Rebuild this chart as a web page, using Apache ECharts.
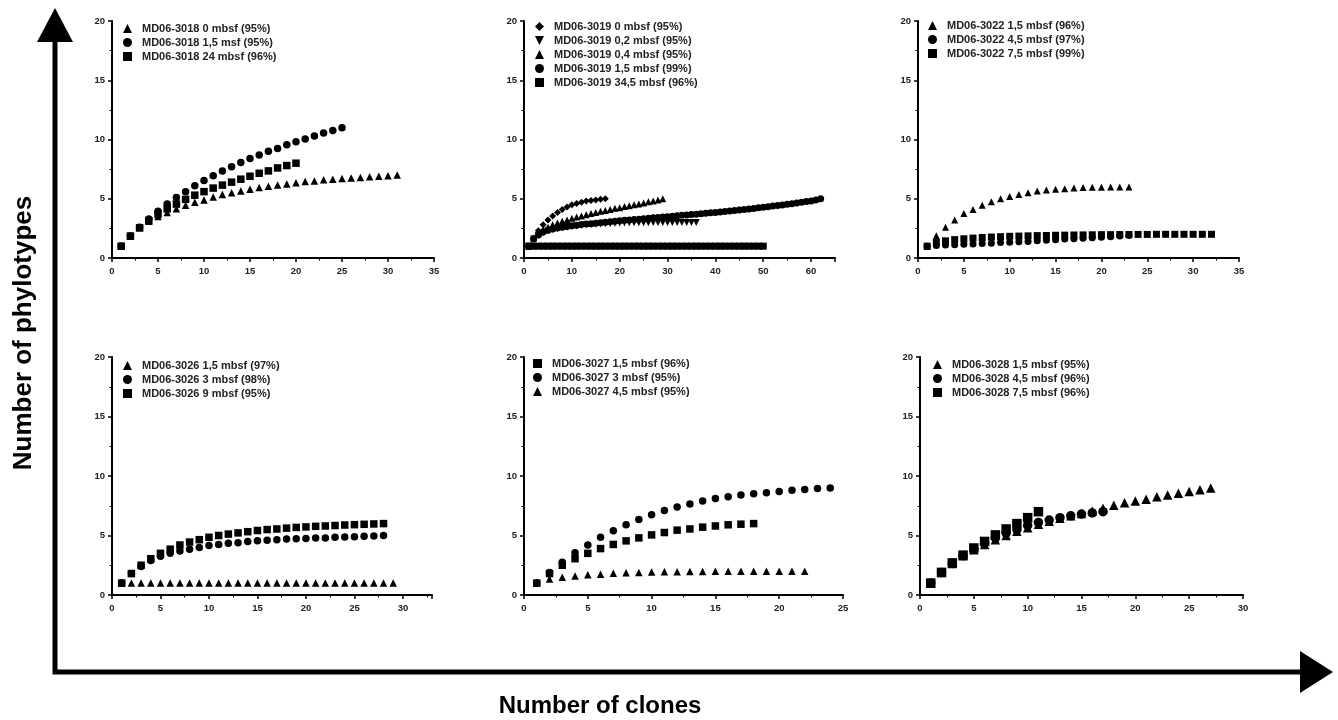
<!DOCTYPE html>
<html><head><meta charset="utf-8">
<script src="https://cdn.jsdelivr.net/npm/echarts@6/dist/echarts.min.js"></script>
<style>html,body{margin:0;padding:0;background:#fff}#c{width:1338px;height:720px}</style>
</head><body><div id="c"></div><script>
// ---- DATA (y values; x = number of clones 1..n) ----
const names3018 = ['MD06-3018 0 mbsf (95%)', 'MD06-3018 1,5 msf (95%)', 'MD06-3018 24 mbsf (96%)'];
const y3018_0 = [1,1.85,2.55,3.1,3.5,3.85,4.15,4.45,4.7,4.9,5.15,5.35,5.5,5.65,5.8,5.95,6.05,6.15,6.25,6.35,6.45,6.5,6.6,6.65,6.7,6.75,6.8,6.85,6.9,6.95,7.0];
const y3018_15 = [1,1.85,2.6,3.3,3.95,4.55,5.1,5.6,6.1,6.55,6.95,7.35,7.7,8.05,8.4,8.7,9.0,9.25,9.55,9.8,10.05,10.3,10.55,10.75,11.0];
const y3018_24 = [1,1.85,2.55,3.15,3.7,4.15,4.55,4.95,5.3,5.6,5.9,6.15,6.4,6.65,6.9,7.15,7.35,7.6,7.8,8.0];

const names3019 = ['MD06-3019 0 mbsf (95%)', 'MD06-3019 0,2 mbsf (95%)', 'MD06-3019 0,4 mbsf (95%)', 'MD06-3019 1,5 mbsf (99%)', 'MD06-3019 34,5 mbsf (96%)'];
const y3019_0 = [1,1.6,2.3,2.8,3.2,3.55,3.85,4.1,4.3,4.5,4.6,4.7,4.8,4.85,4.9,4.95,5.0];
const y3019_02 = [1,1.6,1.9,2.1,2.3,2.4,2.5,2.55,2.6,2.65,2.7,2.75,2.8,2.82,2.85,2.87,2.9,2.92,2.93,2.95,2.96,2.97,2.97,2.98,2.98,2.98,2.99,2.99,2.99,3,3,3,3,3,3,3];
const y3019_04 = [1,1.7,2.1,2.4,2.6,2.8,2.95,3.1,3.2,3.35,3.45,3.55,3.65,3.75,3.85,3.95,4.0,4.1,4.2,4.25,4.35,4.4,4.5,4.55,4.65,4.75,4.8,4.9,5.0];
const y3019_15 = [1.0,1.6,1.95,2.2,2.35,2.45,2.53,2.6,2.66,2.72,2.77,2.82,2.86,2.9,2.94,2.98,3.02,3.06,3.1,3.14,3.18,3.21,3.25,3.28,3.32,3.35,3.39,3.42,3.46,3.49,3.53,3.56,3.6,3.63,3.67,3.7,3.74,3.77,3.81,3.85,3.89,3.93,3.97,4.01,4.05,4.1,4.14,4.18,4.23,4.28,4.33,4.38,4.43,4.48,4.53,4.58,4.64,4.7,4.76,4.82,4.9,5.0];
const y3019_345 = [1,1,1,1,1,1,1,1,1,1,1,1,1,1,1,1,1,1,1,1,1,1,1,1,1,1,1,1,1,1,1,1,1,1,1,1,1,1,1,1,1,1,1,1,1,1,1,1,1,1];

const names3022 = ['MD06-3022 1,5 mbsf (96%)', 'MD06-3022 4,5 mbsf (97%)', 'MD06-3022 7,5 mbsf (99%)'];
const y3022_15 = [1,1.87,2.6,3.2,3.75,4.1,4.45,4.75,5.0,5.2,5.35,5.5,5.65,5.73,5.8,5.85,5.9,5.95,5.97,5.98,6,6,6];
const y3022_45 = [1,1.05,1.1,1.12,1.15,1.18,1.22,1.25,1.3,1.33,1.37,1.4,1.45,1.5,1.55,1.6,1.63,1.67,1.7,1.75,1.8,1.85,1.9];
const y3022_75 = [1,1.3,1.45,1.55,1.62,1.68,1.73,1.77,1.8,1.83,1.85,1.87,1.89,1.9,1.92,1.93,1.94,1.95,1.96,1.97,1.97,1.98,1.98,1.99,1.99,2,2,2,2,2,2,2];

const names3026 = ['MD06-3026 1,5 mbsf (97%)', 'MD06-3026 3 mbsf (98%)', 'MD06-3026 9 mbsf (95%)'];
const y3026_15 = [1,1,1,1,1,1,1,1,1,1,1,1,1,1,1,1,1,1,1,1,1,1,1,1,1,1,1,1,1];
const y3026_3 = [1,1.8,2.4,2.9,3.25,3.5,3.7,3.85,4.0,4.15,4.25,4.35,4.4,4.5,4.55,4.6,4.65,4.7,4.72,4.75,4.78,4.8,4.85,4.87,4.9,4.93,4.96,5.0];
const y3026_9 = [1,1.8,2.5,3.05,3.5,3.85,4.2,4.45,4.65,4.85,5.0,5.12,5.22,5.32,5.42,5.5,5.55,5.62,5.68,5.72,5.77,5.8,5.84,5.88,5.91,5.94,5.97,6.0];

const names3027 = ['MD06-3027 1,5 mbsf (96%)', 'MD06-3027 3 mbsf (95%)', 'MD06-3027 4,5 mbsf (95%)'];
const y3027_15 = [1,1.8,2.5,3.05,3.5,3.9,4.25,4.55,4.8,5.05,5.25,5.45,5.55,5.7,5.8,5.9,5.95,6.0];
const y3027_3 = [1,1.9,2.75,3.55,4.2,4.85,5.4,5.9,6.35,6.75,7.1,7.4,7.65,7.9,8.1,8.25,8.4,8.5,8.6,8.7,8.8,8.87,8.95,9.0];
const y3027_45 = [1,1.35,1.5,1.6,1.7,1.75,1.82,1.87,1.9,1.93,1.95,1.96,1.97,1.98,1.99,2,2,2,2,2,2,2];

const names3028 = ['MD06-3028 1,5 mbsf (95%)', 'MD06-3028 4,5 mbsf (96%)', 'MD06-3028 7,5 mbsf (96%)'];
const y3028_15 = [1,1.9,2.65,3.3,3.8,4.25,4.65,5.0,5.35,5.65,5.95,6.2,6.45,6.65,6.85,7.05,7.3,7.55,7.75,7.9,8.05,8.25,8.4,8.55,8.7,8.85,9.0];
const y3028_45 = [1,1.9,2.65,3.3,3.85,4.35,4.8,5.2,5.5,5.85,6.1,6.3,6.5,6.65,6.8,6.9,7.0];
const y3028_75 = [1,1.9,2.7,3.35,3.95,4.5,5.05,5.55,6.0,6.5,7.0];

const yTicks = [0, 5, 10, 15, 20];
const axisTitleX = 'Number of clones';
const axisTitleY = 'Number of phylotypes';

// ---- LAYOUT / STYLE ----
const TRI = 'triangle', CIR = 'circle', SQ = 'rect', DIA = 'diamond', INV = 'path://M0,0 L10,0 L5,10 Z';
const FONT = 'Liberation Sans, Arial, sans-serif';
const INK = '#000';

const panels = [
  {grid:{left:112, top:21, width:322, height:237}, xmax:35, xint:5, leg:{left:123, top:23}, size:7.5,
   series:[[names3018[0], TRI, y3018_0], [names3018[1], CIR, y3018_15], [names3018[2], SQ, y3018_24]]},
  {grid:{left:524, top:21, width:311, height:237}, xmax:65, xint:10, leg:{left:535, top:21}, size:7,
   series:[[names3019[0], DIA, y3019_0], [names3019[1], INV, y3019_02], [names3019[2], TRI, y3019_04], [names3019[3], CIR, y3019_15], [names3019[4], SQ, y3019_345]]},
  {grid:{left:918, top:21, width:321, height:237}, xmax:35, xint:5, leg:{left:928, top:20}, size:7,
   series:[[names3022[0], TRI, y3022_15], [names3022[1], CIR, y3022_45], [names3022[2], SQ, y3022_75]]},
  {grid:{left:112, top:357, width:320, height:238}, xmax:33, xint:5, leg:{left:123, top:360}, size:7.5,
   series:[[names3026[0], TRI, y3026_15], [names3026[1], CIR, y3026_3], [names3026[2], SQ, y3026_9]]},
  {grid:{left:524, top:357, width:319, height:238}, xmax:25, xint:5, leg:{left:533, top:358}, size:7.5,
   series:[[names3027[0], SQ, y3027_15], [names3027[1], CIR, y3027_3], [names3027[2], TRI, y3027_45]]},
  {grid:{left:920, top:357, width:323, height:238}, xmax:30, xint:5, leg:{left:933, top:359}, size:9.5,
   series:[[names3028[0], TRI, y3028_15], [names3028[1], CIR, y3028_45], [names3028[2], SQ, y3028_75]]}
];

const grid = [], xAxis = [], yAxis = [], series = [], legend = [];
const axisCommon = {
  axisLine:{show:true, onZero:false, lineStyle:{color:INK, width:2}},
  axisTick:{show:true, inside:false, length:4, lineStyle:{color:INK, width:1.5}},
  minorTick:{show:true, splitNumber:2, length:2.5, lineStyle:{color:INK, width:1}},
  splitLine:{show:false}
};
panels.forEach((p, i) => {
  grid.push(Object.assign({containLabel:false}, p.grid));
  xAxis.push(Object.assign({}, axisCommon, {
    type:'value', gridIndex:i, min:0, max:p.xmax, interval:p.xint,
    axisLabel:{fontFamily:FONT, fontSize:9.5, fontWeight:'bold', color:'#222', margin:8,
      formatter: v => (Math.abs(v % p.xint) < 1e-9 ? String(v) : '')}
  }));
  yAxis.push(Object.assign({}, axisCommon, {
    type:'value', gridIndex:i, min:yTicks[0], max:yTicks[yTicks.length-1], interval:5,
    axisLabel:{fontFamily:FONT, fontSize:9.5, fontWeight:'bold', color:'#222', margin:7}
  }));
  legend.push({
    orient:'vertical', left:p.leg.left, top:p.leg.top, itemWidth:9, itemHeight:9, itemGap:3,
    padding:0,
    data:p.series.map(s => s[0]),
    itemStyle:{opacity:1},
    textStyle:{fontFamily:FONT, fontSize:11, fontWeight:'bold', color:'#222', lineHeight:9, padding:[0,0,0,5]}
  });
  p.series.forEach(s => {
    series.push({
      type:'scatter', name:s[0], xAxisIndex:i, yAxisIndex:i, symbol:s[1], symbolSize:p.size,
      itemStyle:{color:INK, opacity:1}, silent:true, animation:false,
      data:s[2].map((y, k) => [k + 1, y])
    });
  });
});

const chart = echarts.init(document.getElementById('c'), null, {renderer:'canvas'});
chart.setOption({
  backgroundColor:'#fff', animation:false,
  grid, xAxis, yAxis, series, legend,
  graphic:[
    {type:'polyline', shape:{points:[[55,40],[55,672],[1302,672]]}, style:{stroke:'#000', lineWidth:5, fill:null}},
    {type:'polygon', shape:{points:[[37,42],[73,42],[55,8]]}, style:{fill:'#000'}},
    {type:'polygon', shape:{points:[[1300,651],[1300,693],[1333,672]]}, style:{fill:'#000'}},
    {type:'text', x:600, y:706, style:{text:axisTitleX, fontFamily:FONT, fontSize:24, fontWeight:'bold', fill:'#000', align:'center', verticalAlign:'middle'}},
    {type:'text', x:24, y:333, rotation:Math.PI/2, style:{text:axisTitleY, fontFamily:FONT, fontSize:26, fontWeight:'bold', fill:'#000', align:'center', verticalAlign:'middle'}}
  ]
});
</script></body></html>
